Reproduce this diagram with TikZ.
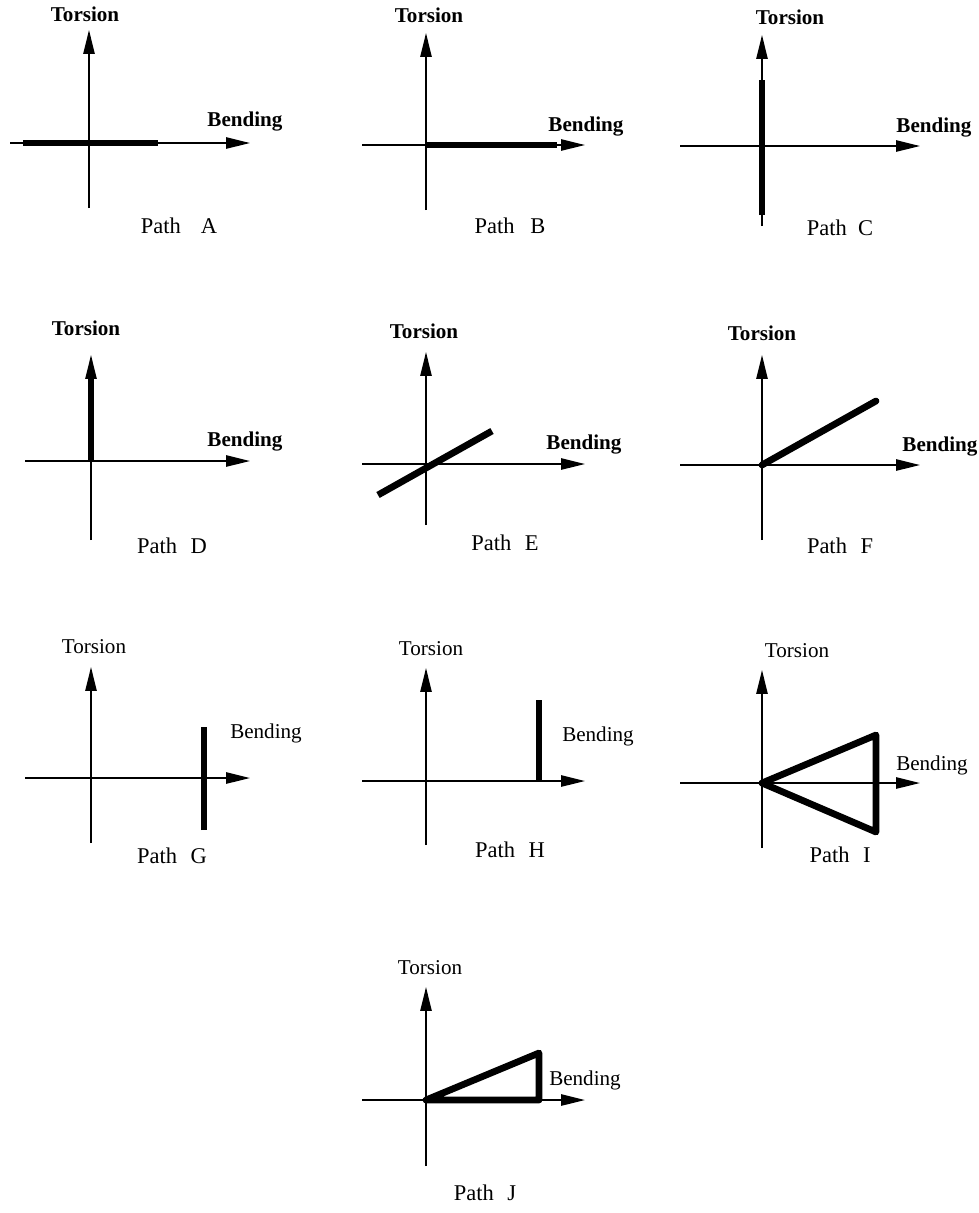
\documentclass[tikz,border=0pt]{standalone}
\usepackage{fontspec}
\setmainfont{Liberation Serif}
\usetikzlibrary{arrows.meta}

\tikzset{
  axis/.style={line width=1.3pt,-{Triangle[length=17pt,width=8pt]}},
  load/.style={line width=4.8pt},
  loop/.style={line width=4.8pt,line join=round},
  lbl/.style={font=\fontsize{15}{18}\selectfont},
  blbl/.style={font=\fontsize{15}{18}\selectfont\bfseries},
  plbl/.style={font=\fontsize{16}{19}\selectfont}
}
% horizontal and vertical axes of one panel
\newcommand{\panelaxes}[4]{%
  \draw[axis] (#1,0) -- (#2,0);
  \draw[axis] (0,#3) -- (0,#4);}

\begin{document}
\begin{tikzpicture}[x=0.025cm,y=-0.025cm]
  \useasboundingbox (0,0) rectangle (979,1213);

  % Path A
  \begin{scope}[shift={(89,143)}]
    \panelaxes{-79}{161}{65}{-113}
    \draw[load] (-66,0) -- (69,0);
    \node[blbl] (torsA) at (-4,-129) {Torsion};
    \node[blbl] (bendA) at (156,-21) {Bending};
    \node[plbl] (pathA) at (90,83) {Path\hspace{0.9em}A};
  \end{scope}

  % Path B
  \begin{scope}[shift={(426,145)}]
    \panelaxes{-64}{159}{65}{-112}
    \draw[load] (0,0) -- (131,0);
    \node[blbl] (torsB) at (3,-130) {Torsion};
    \node[blbl] (bendB) at (160,-18) {Bending};
    \node[plbl] (pathB) at (84,81) {Path\hspace{0.7em}B};
  \end{scope}

  % Path C
  \begin{scope}[shift={(762,146)}]
    \panelaxes{-82}{158}{80}{-111}
    \draw[load] (0,69) -- (0,-66);
    \node[blbl] (torsC) at (28,-129) {Torsion};
    \node[blbl] (bendC) at (172,-18) {Bending};
    \node[plbl] (pathC) at (78,82) {Path\hspace{0.5em}C};
  \end{scope}

  % Path D
  \begin{scope}[shift={(91,461)}]
    \panelaxes{-66}{159}{79}{-106}
    \draw[load] (0,0) -- (0,-84);
    \node[blbl] (torsD) at (-5,-133) {Torsion};
    \node[blbl] (bendD) at (154,-20) {Bending};
    \node[plbl] (pathD) at (81,85) {Path\hspace{0.6em}D};
  \end{scope}

  % Path E
  \begin{scope}[shift={(426,464)}]
    \panelaxes{-64}{159}{61}{-112}
    \draw[load] (-48,31) -- (66,-33);
    \node[blbl] (torsE) at (-2,-133) {Torsion};
    \node[blbl] (bendE) at (158,-20) {Bending};
    \node[plbl] (pathE) at (79,79) {Path\hspace{0.6em}E};
  \end{scope}

  % Path F
  \begin{scope}[shift={(762,465)}]
    \panelaxes{-82}{158}{75}{-110}
    \draw[load,line cap=round] (0,0) -- (114,-64);
    \node[blbl] (torsF) at (0,-132) {Torsion};
    \node[blbl] (bendF) at (178,-19) {Bending};
    \node[plbl] (pathF) at (78,81) {Path\hspace{0.6em}F};
  \end{scope}

  % Path G
  \begin{scope}[shift={(91,778)}]
    \panelaxes{-66}{159}{65}{-111}
    \draw[load] (113,52) -- (113,-51);
    \node[lbl] (torsG) at (3,-131) {Torsion};
    \node[lbl] (bendG) at (175,-45) {Bending};
    \node[plbl] (pathG) at (81,78) {Path\hspace{0.6em}G};
  \end{scope}

  % Path H
  \begin{scope}[shift={(426,781)}]
    \panelaxes{-64}{159}{64}{-113}
    \draw[load] (113,0) -- (113,-81);
    \node[lbl] (torsH) at (5,-132) {Torsion};
    \node[lbl] (bendH) at (172,-45) {Bending};
    \node[plbl] (pathH) at (84,69) {Path\hspace{0.6em}H};
  \end{scope}

  % Path I
  \begin{scope}[shift={(762,783)}]
    \panelaxes{-82}{158}{65}{-113}
    \draw[loop] (0,0) -- (114,-48) -- (114,49) -- cycle;
    \node[lbl] (torsI) at (35,-132) {Torsion};
    \node[lbl] (bendI) at (170,-18) {Bending};
    \node[plbl] (pathI) at (78,72) {Path\hspace{0.6em}I};
  \end{scope}

  % Path J
  \begin{scope}[shift={(426,1100)}]
    \panelaxes{-64}{159}{66}{-113}
    \draw[loop] (0,0) -- (113,-47) -- (113,0) -- cycle;
    \node[lbl] (torsJ) at (4,-132) {Torsion};
    \node[lbl] (bendJ) at (159,-20) {Bending};
    \node[plbl] (pathJ) at (59,93) {Path\hspace{0.6em}J};
  \end{scope}
\end{tikzpicture}
\end{document}
